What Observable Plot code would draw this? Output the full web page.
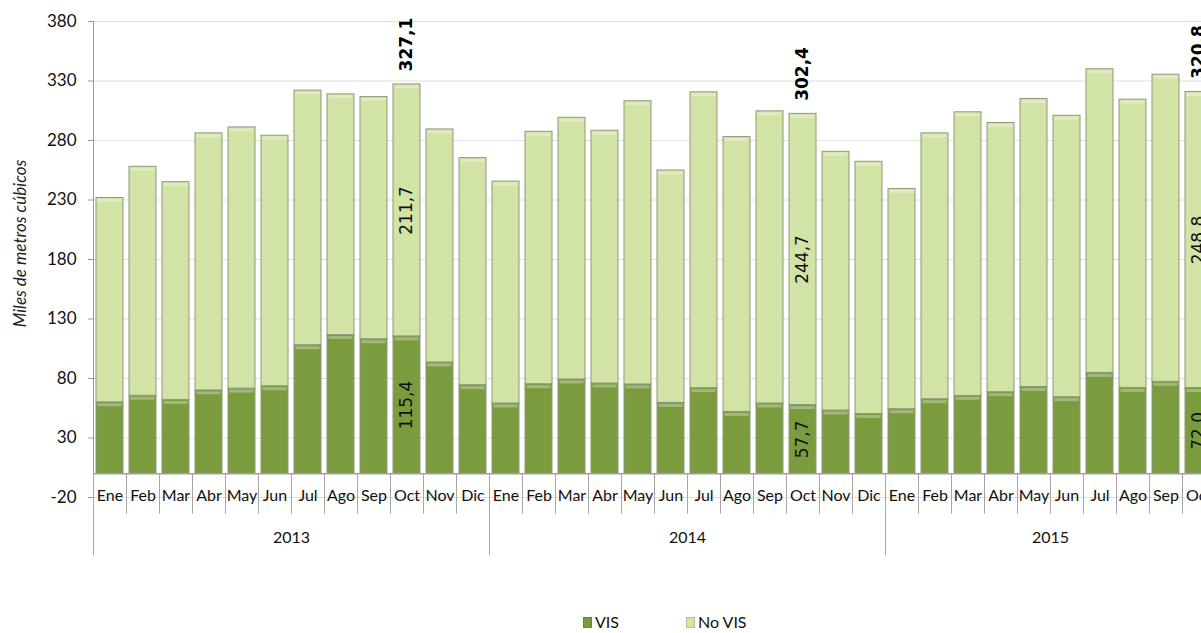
<!DOCTYPE html>
<html><head><meta charset="utf-8">
<script src="https://cdn.jsdelivr.net/npm/d3@7"></script>
<script src="https://cdn.jsdelivr.net/npm/@observablehq/plot@0.6"></script>
<style>
html,body{margin:0;padding:0;background:#fff;overflow:hidden;width:1201px;height:633px;}
#wrap{position:relative;width:1201px;height:633px;overflow:hidden;}
#chart svg{max-width:none !important;display:block;}
.legend{position:absolute;top:612px;height:20px;line-height:20px;font-family:Lato,sans-serif;font-size:16px;color:#111;display:flex;align-items:center;white-space:nowrap;}
.sw{display:inline-block;width:9px;height:11px;margin-right:3px;box-shadow:inset 0 0 0 1px rgba(0,0,0,0.15);}
</style></head>
<body><div id="wrap"><div id="chart"></div><div id="legend"></div></div>
<script>
const years = ["2013", "2014", "2015"];
const months = ["Ene", "Feb", "Mar", "Abr", "May", "Jun", "Jul", "Ago", "Sep", "Oct", "Nov", "Dic"];
const vis2013   = [60.0, 65.5, 62.0, 70.0, 71.5, 73.5, 108.0, 116.5, 113.0, 115.4, 93.5, 74.4];
const noVis2013 = [171.7, 192.4, 183.0, 216.0, 219.5, 210.5, 213.9, 202.3, 203.5, 211.7, 195.8, 190.8];
const vis2014   = [59.0, 75.2, 79.2, 75.8, 75.0, 59.5, 71.9, 51.9, 59.0, 57.7, 53.1, 50.2];
const noVis2014 = [186.5, 212.1, 219.9, 212.4, 238.0, 195.3, 248.6, 231.0, 245.5, 244.7, 217.4, 211.9];
const vis2015   = [54.2, 62.6, 65.4, 68.5, 72.9, 64.3, 84.7, 72.1, 77.2, 72.0];
const noVis2015 = [185.1, 223.4, 238.3, 226.2, 242.0, 236.5, 255.2, 242.2, 258.1, 248.8];
const seriesNames = ["VIS", "No VIS"];
const seriesColors = ["#7B9B3F", "#D2E3A6"];
const yTicks = [-20, 30, 80, 130, 180, 230, 280, 330, 380];
const labelMonth = "Oct";
const yLabel = "Miles de metros cúbicos";

const visByYear = [vis2013, vis2014, vis2015];
const noVisByYear = [noVis2013, noVis2014, noVis2015];

const rows = [], cats = [], totals = [], yearLabels = [];
years.forEach((yr, yi) => {
  const n = visByYear[yi].length;
  visByYear[yi].forEach((v, mi) => {
    const key = yr + "-" + months[mi];
    const nv = noVisByYear[yi][mi];
    cats.push({key, year: yr, month: months[mi], mi});
    rows.push({key, month: months[mi], series: seriesNames[0], value: v});
    rows.push({key, month: months[mi], series: seriesNames[1], value: nv});
    if (months[mi] === labelMonth) totals.push({key, total: v + nv});
  });
  yearLabels.push({key: yr + "-" + months[Math.floor((n - 1) / 2)], year: yr});
});
const keys = cats.map(c => c.key);
const fmt = v => d3.format(".1f")(v).replace(".", ",");
const labeled = rows.filter(r => r.month === labelMonth);

const step = 33;
const tickFont = "Lato, 'Open Sans', sans-serif";
const valFont = "'DejaVu Sans', Verdana, sans-serif";

const chart = Plot.plot({
  width: 1216,
  height: 606,
  marginTop: 21,
  marginBottom: 109,
  marginLeft: 93,
  marginRight: 1,
  style: {fontFamily: tickFont, background: "#fff"},
  x: {domain: keys, paddingInner: 0.18, paddingOuter: 0.09, axis: null},
  y: {domain: [-20, 380], axis: null},
  color: {domain: seriesNames, range: seriesColors},
  marks: [
    Plot.gridY(yTicks, {stroke: "#e0e0e0", strokeOpacity: 1}),
    Plot.barY(rows, {x: "key", y: "value", fill: "series", z: "series", stroke: "#8e9a7c", strokeWidth: 1}),
    Plot.tickY(rows, Plot.stackY2({x: "key", y: "value", z: "series", stroke: "white", strokeOpacity: 0.3, strokeWidth: 3, dy: 2.5, insetLeft: 1.5, insetRight: 1.5})),
    Plot.ruleY([0], {stroke: "#a0a0a0", strokeWidth: 1.5}),
    Plot.ruleX([keys[0]], {y1: 0, y2: 380, dx: -step / 2, stroke: "#999"}),
    Plot.ruleX(cats.filter(c => c.mi !== 0), {x: "key", y1: 0, y2: -34, dx: -step / 2, stroke: "#a6a6a6"}),
    Plot.ruleX(cats.filter(c => c.mi === 0), {x: "key", y1: 0, y2: -69, dx: -step / 2, stroke: "#a6a6a6"}),
    Plot.axisY(yTicks, {tickSize: 5, tickPadding: 12, fontSize: 17, fontFamily: tickFont, stroke: "#999", fill: "#111", label: null, tickFormat: d => String(d)}),
    Plot.text(cats, {x: "key", text: "month", frameAnchor: "bottom", dy: 3, fontSize: 16, fontFamily: tickFont, fill: "#111"}),
    Plot.text(yearLabels, {x: "key", text: "year", frameAnchor: "bottom", dy: 45, dx: step / 2, fontSize: 16, fontFamily: tickFont, fill: "#111"}),
    Plot.text(labeled, Plot.stackY({x: "key", y: "value", z: "series", text: d => fmt(d.value), rotate: -90, fontSize: 17, fontFamily: valFont, fill: "#111"})),
    Plot.text(totals, {x: "key", y: "total", text: d => fmt(d.total), rotate: -90, textAnchor: "start", dy: -13, fontSize: 17, fontWeight: "bold", fontFamily: valFont, fill: "#000"}),
    Plot.text([yLabel], {text: d => d, frameAnchor: "left", textAnchor: "middle", dx: -73, dy: -16, rotate: -90, fontSize: 17, fontStyle: "italic", fontFamily: tickFont, fill: "#222"})
  ]
});
document.getElementById("chart").appendChild(chart);

const legendX = [583, 686];
const lg = document.getElementById("legend");
seriesNames.forEach((s, i) => {
  const d = document.createElement("div");
  d.className = "legend";
  d.style.left = legendX[i] + "px";
  const sw = document.createElement("span");
  sw.className = "sw";
  sw.style.background = seriesColors[i];
  d.appendChild(sw);
  d.appendChild(document.createTextNode(s));
  lg.appendChild(d);
});
</script>
</body></html>
